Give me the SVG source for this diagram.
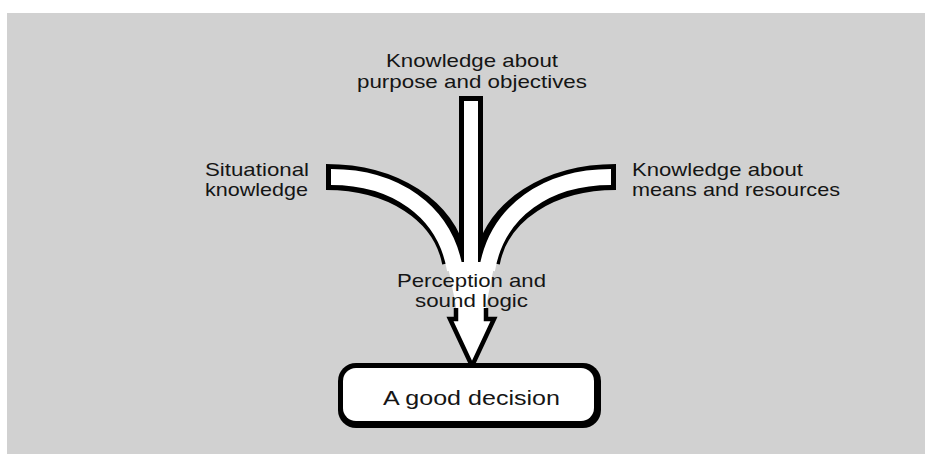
<svg xmlns="http://www.w3.org/2000/svg" width="925" height="454" viewBox="0 0 925 454">
  <style>
    .lbl { font-family: "Liberation Sans", Arial, sans-serif; font-size: 19px; fill: #151515; }
    .blk { fill: none; stroke: #000; stroke-linecap: butt; }
    .wht { fill: none; stroke: #fff; stroke-linecap: butt; }
  </style>
  <rect x="0" y="0" width="925" height="454" fill="#ffffff"/>
  <rect x="7" y="13" width="918" height="441" fill="#d1d1d1"/>

  <g id="connectors">
    <path class="blk" d="M 471 96 V 262" stroke-width="24"/>
    <path class="blk" d="M 326 177 C 392 177, 445 210, 455 262" stroke-width="26"/>
    <path class="blk" d="M 616 177 C 550 177, 497 210, 487 262" stroke-width="26"/>
    <path class="wht" d="M 471 101 V 300" stroke-width="14"/>
    <path class="wht" d="M 331 177 C 394 177, 445 210, 455 270" stroke-width="16"/>
    <path class="wht" d="M 611 177 C 548 177, 497 210, 487 270" stroke-width="16"/>
    <path d="M 447 262 L 495 262 L 486 306 V 322 H 456 V 306 Z" fill="#fff"/>
    <path d="M 456 308 V 319 H 450 L 472 366 L 494 319 H 486 V 308" fill="#fff" stroke="#000" stroke-width="4.5" stroke-linejoin="miter"/>
  </g>

  <g id="node-purpose">
    <text class="lbl" x="386" y="67" textLength="172" lengthAdjust="spacingAndGlyphs">Knowledge about</text>
    <text class="lbl" x="357" y="88" textLength="230" lengthAdjust="spacingAndGlyphs">purpose and objectives</text>
  </g>
  <g id="node-situational">
    <text class="lbl" x="205" y="176" textLength="104" lengthAdjust="spacingAndGlyphs">Situational</text>
    <text class="lbl" x="205" y="196" textLength="103" lengthAdjust="spacingAndGlyphs">knowledge</text>
  </g>
  <g id="node-means">
    <text class="lbl" x="632" y="176" textLength="171" lengthAdjust="spacingAndGlyphs">Knowledge about</text>
    <text class="lbl" x="632" y="196" textLength="208" lengthAdjust="spacingAndGlyphs">means and resources</text>
  </g>
  <g id="node-perception">
    <text class="lbl" x="397" y="287" textLength="149" lengthAdjust="spacingAndGlyphs">Perception and</text>
    <text class="lbl" x="415" y="307" textLength="113" lengthAdjust="spacingAndGlyphs">sound logic</text>
  </g>
  <g id="node-decision">
    <rect x="338" y="363" width="263" height="65" rx="18" fill="#000"/>
    <rect x="343" y="368" width="251" height="53" rx="13" fill="#fff"/>
    <text class="lbl" x="383" y="405" textLength="177" lengthAdjust="spacingAndGlyphs" style="font-size:20px">A good decision</text>
  </g>
</svg>
